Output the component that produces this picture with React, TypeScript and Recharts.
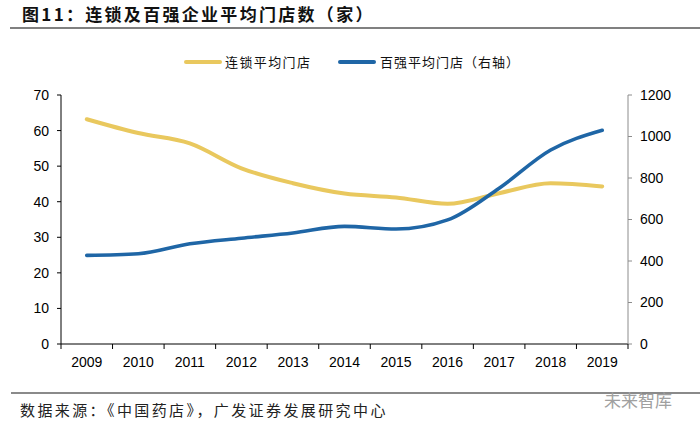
import { LineChart, Line, XAxis, YAxis } from "recharts";

const years = [2009, 2010, 2011, 2012, 2013, 2014, 2015, 2016, 2017, 2018, 2019];
const chainAvg = [63.2, 59.3, 56.4, 49.4, 45.2, 42.3, 41.2, 39.4, 42.4, 45.2, 44.3];
const top100Avg = [427, 435, 483, 510, 535, 567, 554, 598, 751, 935, 1030];
const leftTicks = [0, 10, 20, 30, 40, 50, 60, 70];
const rightTicks = [0, 200, 400, 600, 800, 1000, 1200];

const data = years.map((year, i) => ({
  year,
  chain: chainAvg[i],
  top100: top100Avg[i],
}));

// labels at the years, tick marks between them
const xTicks = [...years.flatMap((y) => [y - 0.5, y]), years[years.length - 1] + 0.5];

const YELLOW = "#E9C85E";
const BLUE = "#1F66A6";
const numFont = "'Liberation Sans', Arial, sans-serif";
const cjkFont = "'Noto Sans CJK SC', sans-serif";

const TICK_SIZE = 5;
const TICK_MARGIN = 4;

function XTick(props: any) {
  const { x, y, payload } = props;
  const v = payload.value;
  if (Number.isInteger(v)) {
    return (
      <text x={x} y={y} dy={14} textAnchor="middle" fill="#000" fontSize={14} fontFamily={numFont}>
        {v}
      </text>
    );
  }
  const axisY = y - TICK_SIZE - TICK_MARGIN;
  return <line x1={x} x2={x} y1={axisY} y2={axisY + TICK_SIZE} stroke="#000" strokeWidth={1} />;
}

export default function App() {
  return (
    <div style={{ position: "absolute", left: 0, top: 0, width: 700, height: 429, background: "#fff" }}>
      <div
        style={{
          position: "absolute",
          left: 22,
          top: 3,
          fontFamily: cjkFont,
          fontWeight: 700,
          fontSize: 17,
          letterSpacing: 2.3,
          lineHeight: "22px",
          color: "#111",
          whiteSpace: "nowrap",
        }}
      >
        图11：连锁及百强企业平均门店数（家）
      </div>
      <div style={{ position: "absolute", left: 10, top: 27, width: 690, height: 2, background: "#808080" }} />

      {/* legend */}
      <div style={{ position: "absolute", left: 184, top: 60, width: 38, height: 4, borderRadius: 2, background: YELLOW }} />
      <div
        style={{
          position: "absolute",
          left: 225,
          top: 53,
          fontFamily: cjkFont,
          fontSize: 13,
          letterSpacing: 1.4,
          lineHeight: "17px",
          color: "#111",
          whiteSpace: "nowrap",
        }}
      >
        连锁平均门店
      </div>
      <div style={{ position: "absolute", left: 338, top: 60, width: 38, height: 4, borderRadius: 2, background: BLUE }} />
      <div
        style={{
          position: "absolute",
          left: 380,
          top: 53,
          fontFamily: cjkFont,
          fontSize: 13,
          letterSpacing: 1.0,
          lineHeight: "17px",
          color: "#111",
          whiteSpace: "nowrap",
        }}
      >
        百强平均门店（右轴）
      </div>

      <LineChart
        width={700}
        height={429}
        data={data}
        margin={{ top: 95, right: 12, left: 0, bottom: 55 }}
        style={{ position: "absolute", left: 0, top: 0 }}
      >
        <XAxis
          dataKey="year"
          type="number"
          domain={[years[0] - 0.5, years[years.length - 1] + 0.5]}
          ticks={xTicks}
          interval={0}
          height={30}
          tickSize={TICK_SIZE}
          tickMargin={TICK_MARGIN}
          tickLine={false}
          axisLine={{ stroke: "#000", strokeWidth: 1 }}
          tick={<XTick />}
        />
        <YAxis
          yAxisId="left"
          domain={[0, 70]}
          ticks={leftTicks}
          width={61}
          tickSize={4}
          tickMargin={8}
          axisLine={{ stroke: "#000", strokeWidth: 1 }}
          tickLine={{ stroke: "#000" }}
          tick={{ fill: "#000", fontSize: 14, fontFamily: numFont }}
        />
        <YAxis
          yAxisId="right"
          orientation="right"
          domain={[0, 1200]}
          ticks={rightTicks}
          width={60}
          tickSize={4}
          tickMargin={8}
          axisLine={{ stroke: "#8c8c8c", strokeWidth: 1 }}
          tickLine={{ stroke: "#8c8c8c" }}
          tick={{ fill: "#000", fontSize: 14, fontFamily: numFont }}
        />
        <Line
          yAxisId="left"
          type="monotone"
          dataKey="chain"
          stroke={YELLOW}
          strokeWidth={4}
          strokeLinecap="round"
          dot={false}
          activeDot={false}
          isAnimationActive={false}
        />
        <Line
          yAxisId="right"
          type="monotone"
          dataKey="top100"
          stroke={BLUE}
          strokeWidth={3.6}
          strokeLinecap="round"
          dot={false}
          activeDot={false}
          isAnimationActive={false}
        />
      </LineChart>

      <div style={{ position: "absolute", left: 11, top: 392, width: 689, height: 2, background: "#8a8a8a" }} />
      <div
        style={{
          position: "absolute",
          left: 20,
          top: 400,
          fontFamily: cjkFont,
          fontSize: 15,
          letterSpacing: 2.4,
          lineHeight: "20px",
          color: "#222",
          whiteSpace: "nowrap",
        }}
      >
        数据来源：《中国药店》，广发证券发展研究中心
      </div>
      <div
        style={{
          position: "absolute",
          left: 604,
          top: 389,
          fontFamily: cjkFont,
          fontSize: 17,
          lineHeight: "22px",
          color: "#a0a0a0",
          whiteSpace: "nowrap",
        }}
      >
        未来智库
      </div>
    </div>
  );
}
